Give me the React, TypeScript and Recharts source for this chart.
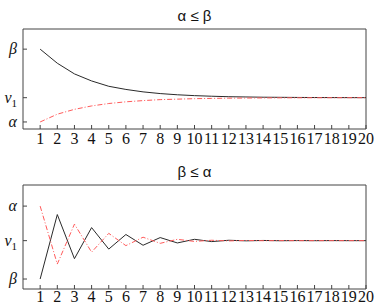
import { LineChart, Line, XAxis, YAxis, ReferenceArea } from 'recharts';

// iteration index
const steps = [1, 2, 3, 4, 5, 6, 7, 8, 9, 10, 11, 12, 13, 14, 15, 16, 17, 18, 19, 20];

// alpha <= beta : monotone convergence to nu1 (alpha = 0, nu1 = 1, beta = 3)
const topSolid = [3, 2.42, 1.98, 1.69, 1.47, 1.34, 1.24, 1.17, 1.12, 1.085, 1.06, 1.04, 1.03, 1.02, 1.015, 1.01, 1.007, 1.005, 1.003, 1.002];
const topDashed = [0, 0.32, 0.52, 0.66, 0.76, 0.83, 0.88, 0.92, 0.94, 0.96, 0.97, 0.98, 0.985, 0.99, 0.993, 0.995, 0.997, 0.998, 0.999, 0.999];

// beta <= alpha : oscillating convergence to nu1 (beta = 0, nu1 = 1, alpha = 1.9)
const bottomSolid = [0, 1.68, 0.53, 1.34, 0.78, 1.16, 0.88, 1.08, 0.94, 1.035, 0.975, 1.01, 0.995, 1.005, 0.998, 1.002, 0.999, 1.001, 1, 1];
const bottomDashed = [1.9, 0.39, 1.43, 0.7, 1.19, 0.87, 1.09, 0.93, 1.035, 0.98, 1.01, 0.993, 1.004, 0.998, 1.001, 0.999, 1, 1, 1, 1];

const topYTicks = [0, 1, 3];
const topYNames: Record<number, string> = { 0: 'α', 1: 'ν1', 3: 'β' };
const bottomYTicks = [0, 1, 1.9];
const bottomYNames: Record<number, string> = { 0: 'β', 1: 'ν1', 1.9: 'α' };

const BORDER = '#444';
const SOLID = '#2a2a2a';
const DASHED = '#ff5a5a';
const SERIF = '"Liberation Serif", "DejaVu Serif", serif';

const MathTick = ({ x, y, payload, names }: any) => {
  const name = names[payload.value];
  return (
    <text x={x} y={y} dy={5} textAnchor="end" fontFamily={SERIF} fontStyle="italic" fontSize={16} fill="#111">
      {name === 'ν1' ? (
        <>
          ν<tspan fontSize={11} fontStyle="normal" dy={4}>1</tspan>
        </>
      ) : (
        name
      )}
    </text>
  );
};

const StepTick = ({ x, y, payload }: any) => (
  <text x={x} y={y} dy={11} textAnchor="middle" fontFamily={SERIF} fontSize={16} fill="#111">
    {payload.value}
  </text>
);

const Panel = ({ title, solid, dashed, yTicks, yNames, domain, top, height, marginTop, axisHeight, labelGap }: any) => {
  const data = steps.map((s, i) => ({ step: s, solid: solid[i], dashed: dashed[i] }));
  return (
    <div style={{ position: 'absolute', left: 0, top, width: 378, height }}>
      <div
        style={{
          position: 'absolute',
          left: 23,
          width: 343,
          top: marginTop - 21,
          textAlign: 'center',
          fontFamily: '"Liberation Sans", Arial, sans-serif',
          fontSize: 15,
          lineHeight: '16px',
          color: '#111',
        }}
      >
        {title}
      </div>
      <LineChart width={378} height={height} data={data} margin={{ top: marginTop, right: 12, left: 0, bottom: 0 }}>
        <XAxis
          dataKey="step"
          type="number"
          domain={[0, 20]}
          ticks={steps}
          interval={0}
          height={axisHeight}
          tickSize={-4}
          tickMargin={labelGap}
          axisLine={false}
          tickLine={{ stroke: BORDER }}
          tick={<StepTick />}
        />
        <XAxis
          xAxisId="top"
          orientation="top"
          dataKey="step"
          type="number"
          domain={[0, 20]}
          ticks={steps}
          interval={0}
          height={0}
          tickSize={-4}
          tick={false}
          axisLine={false}
          tickLine={{ stroke: BORDER }}
        />
        <YAxis
          type="number"
          domain={domain}
          ticks={yTicks}
          interval={0}
          width={23}
          tickSize={-4}
          tickMargin={10}
          axisLine={false}
          tickLine={{ stroke: BORDER }}
          tick={<MathTick names={yNames} />}
          allowDataOverflow
        />
        <YAxis
          yAxisId="right"
          orientation="right"
          type="number"
          domain={domain}
          ticks={yTicks}
          interval={0}
          width={0}
          tickSize={-4}
          tick={false}
          axisLine={false}
          tickLine={{ stroke: BORDER }}
          allowDataOverflow
        />
        <ReferenceArea x1={0} x2={20} y1={domain[0]} y2={domain[1]} fill="none" stroke={BORDER} strokeWidth={1} />
        <Line dataKey="solid" stroke={SOLID} strokeWidth={1} dot={false} isAnimationActive={false} type="linear" />
        <Line
          dataKey="dashed"
          stroke={DASHED}
          strokeWidth={1}
          strokeDasharray="5 2 1 2"
          dot={false}
          isAnimationActive={false}
          type="linear"
        />
      </LineChart>
    </div>
  );
};

export default function App() {
  return (
    <div style={{ position: 'absolute', left: 0, top: 0, width: 378, height: 305, background: '#fff' }}>
      <Panel
        title="α ≤ β"
        solid={topSolid}
        dashed={topDashed}
        yTicks={topYTicks}
        yNames={topYNames}
        domain={[-0.29, 3.83]}
        top={0}
        height={150}
        marginTop={29}
        axisHeight={21}
        labelGap={8}
      />
      <Panel
        title="β ≤ α"
        solid={bottomSolid}
        dashed={bottomDashed}
        yTicks={bottomYTicks}
        yNames={bottomYNames}
        domain={[-0.26, 2.45]}
        top={150}
        height={155}
        marginTop={35}
        axisHeight={16}
        labelGap={6}
      />
    </div>
  );
}
